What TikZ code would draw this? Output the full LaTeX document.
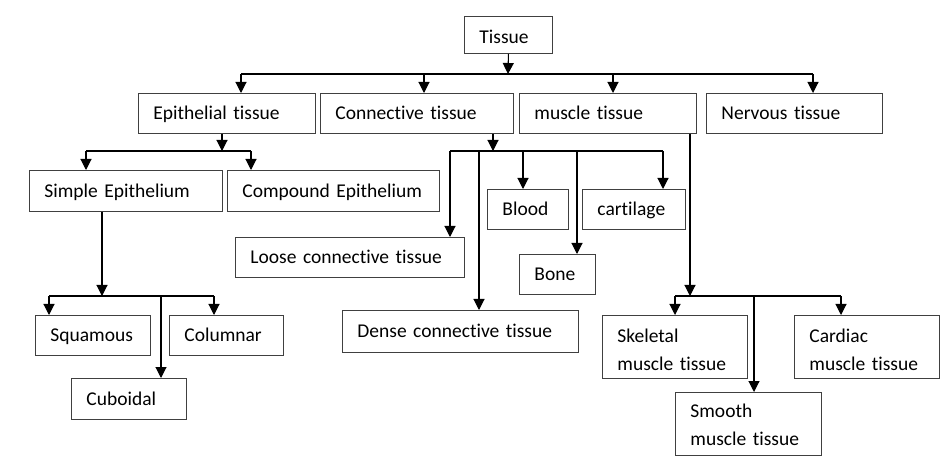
\documentclass[tikz,border=0pt]{standalone}
\usepackage{fontspec}
\setmainfont[RawFeature={-liga;-clig}]{Carlito}
\usetikzlibrary{arrows.meta}
\begin{document}
\begin{tikzpicture}[x=1pt,y=-1pt,
  box/.style={draw=black!75, line width=0.9pt, anchor=north west, inner xsep=15pt, inner ysep=0pt,
    align=left, font=\fontsize{19.5}{28}\selectfont},
  one/.style={box, text height=15.5pt, text depth=2.5pt},
  two/.style={box, text height=#1, text depth=28pt},
  conn/.style={line width=1.1pt},
  arr/.style={conn, -{Triangle[width=11pt,length=11pt]}}]
\useasboundingbox (0,0) rectangle (948,470);
% boxes
\node[box, text height=17.5pt, text depth=0pt, text width=58pt,  minimum height=37pt] (tissue) at (464,16) {Tissue};
\node[one, text width=147pt, minimum height=40pt] (epi)      at (138,93)  {Epithelial tissue};
\node[one, text width=163pt, minimum height=40pt] (conn)     at (320,93)  {Connective tissue};
\node[one, text width=147pt, minimum height=40pt] (musc)     at (519,93)  {muscle tissue};
\node[one, text width=146pt, minimum height=40pt] (nerv)     at (706,93)  {Nervous tissue};
\node[one, text width=163pt, minimum height=41pt] (simple)   at (29,170)  {Simple Epithelium};
\node[one, text width=182pt, minimum height=41pt] (compound) at (227,170) {Compound Epithelium};
\node[one, text width=85pt,  minimum height=40pt] (squam)    at (35,315)  {Squamous};
\node[one, text width=84pt,  minimum height=40pt] (colum)    at (169,315) {Columnar};
\node[one, text width=85pt,  minimum height=41pt] (cuboid)   at (71,378)  {Cuboidal};
\node[one, text width=199pt, minimum height=40pt] (loose)    at (235,237) {Loose connective tissue};
\node[one, text width=206pt, minimum height=42pt] (dense)    at (342,310) {Dense connective tissue};
\node[one, text width=51pt,  minimum height=40pt] (blood)    at (487,189) {Blood};
\node[one, text width=46pt,  minimum height=40pt] (bone)     at (519,254) {Bone};
\node[one, text width=73pt,  minimum height=40pt] (cart)     at (582,189) {cartilage};
\node[two=19pt,   text width=115pt, minimum height=63pt] (skel)   at (602,315) {Skeletal\\muscle tissue};
\node[two=19pt,   text width=115pt, minimum height=63pt] (card)   at (794,315) {Cardiac\\muscle tissue};
\node[two=14.5pt, text width=116pt, minimum height=63pt] (smooth) at (675,392) {Smooth\\muscle tissue};
% bus coordinates
\coordinate (t0) at (508,74);
\coordinate (t1) at (241,74);
\coordinate (t2) at (424,74);
\coordinate (t3) at (613,74);
\coordinate (t4) at (813,74);
\coordinate (e0) at (222,151);
\coordinate (e1) at (86,151);
\coordinate (e2) at (251,151);
\coordinate (s0) at (102,296);
\coordinate (s1) at (49,296);
\coordinate (s2) at (161,296);
\coordinate (s3) at (214,296);
\coordinate (c0) at (493,151);
\coordinate (c1) at (450,151);
\coordinate (c2) at (479,151);
\coordinate (c3) at (523,151);
\coordinate (c4) at (577,151);
\coordinate (c5) at (663,151);
\coordinate (m0) at (690,296);
\coordinate (m1) at (675,296);
\coordinate (m2) at (754,296);
\coordinate (m3) at (841,296);
% Tissue
\draw[arr] (tissue.south) -- (t0);
\draw[conn] (t1) -- (t4);
\draw[arr] (t1) -- (t1 |- epi.north);
\draw[arr] (t2) -- (t2 |- conn.north);
\draw[arr] (t3) -- (t3 |- musc.north);
\draw[arr] (t4) -- (t4 |- nerv.north);
% Epithelial
\draw[arr] (e0 |- epi.south) -- (e0);
\draw[conn] (e1) -- (e2);
\draw[arr] (e1) -- (e1 |- simple.north);
\draw[arr] (e2) -- (e2 |- compound.north);
% Simple
\draw[arr] (s0 |- simple.south) -- (s0);
\draw[conn] (s1) -- (s3);
\draw[arr] (s1) -- (s1 |- squam.north);
\draw[arr] (s2) -- (s2 |- cuboid.north);
\draw[arr] (s3) -- (s3 |- colum.north);
% Connective
\draw[arr] (c0 |- conn.south) -- (c0);
\draw[conn] (c1) -- (c5);
\draw[arr] (c1) -- (c1 |- loose.north);
\draw[arr] (c2) -- (c2 |- dense.north);
\draw[arr] (c3) -- (c3 |- blood.north);
\draw[arr] (c4) -- (c4 |- bone.north);
\draw[arr] (c5) -- (c5 |- cart.north);
% Muscle
\draw[arr] (m0 |- musc.south) -- (m0);
\draw[conn] (m1) -- (m3);
\draw[arr] (m1) -- (m1 |- skel.north);
\draw[arr] (m2) -- (m2 |- smooth.north);
\draw[arr] (m3) -- (m3 |- card.north);
\end{tikzpicture}
\end{document}
